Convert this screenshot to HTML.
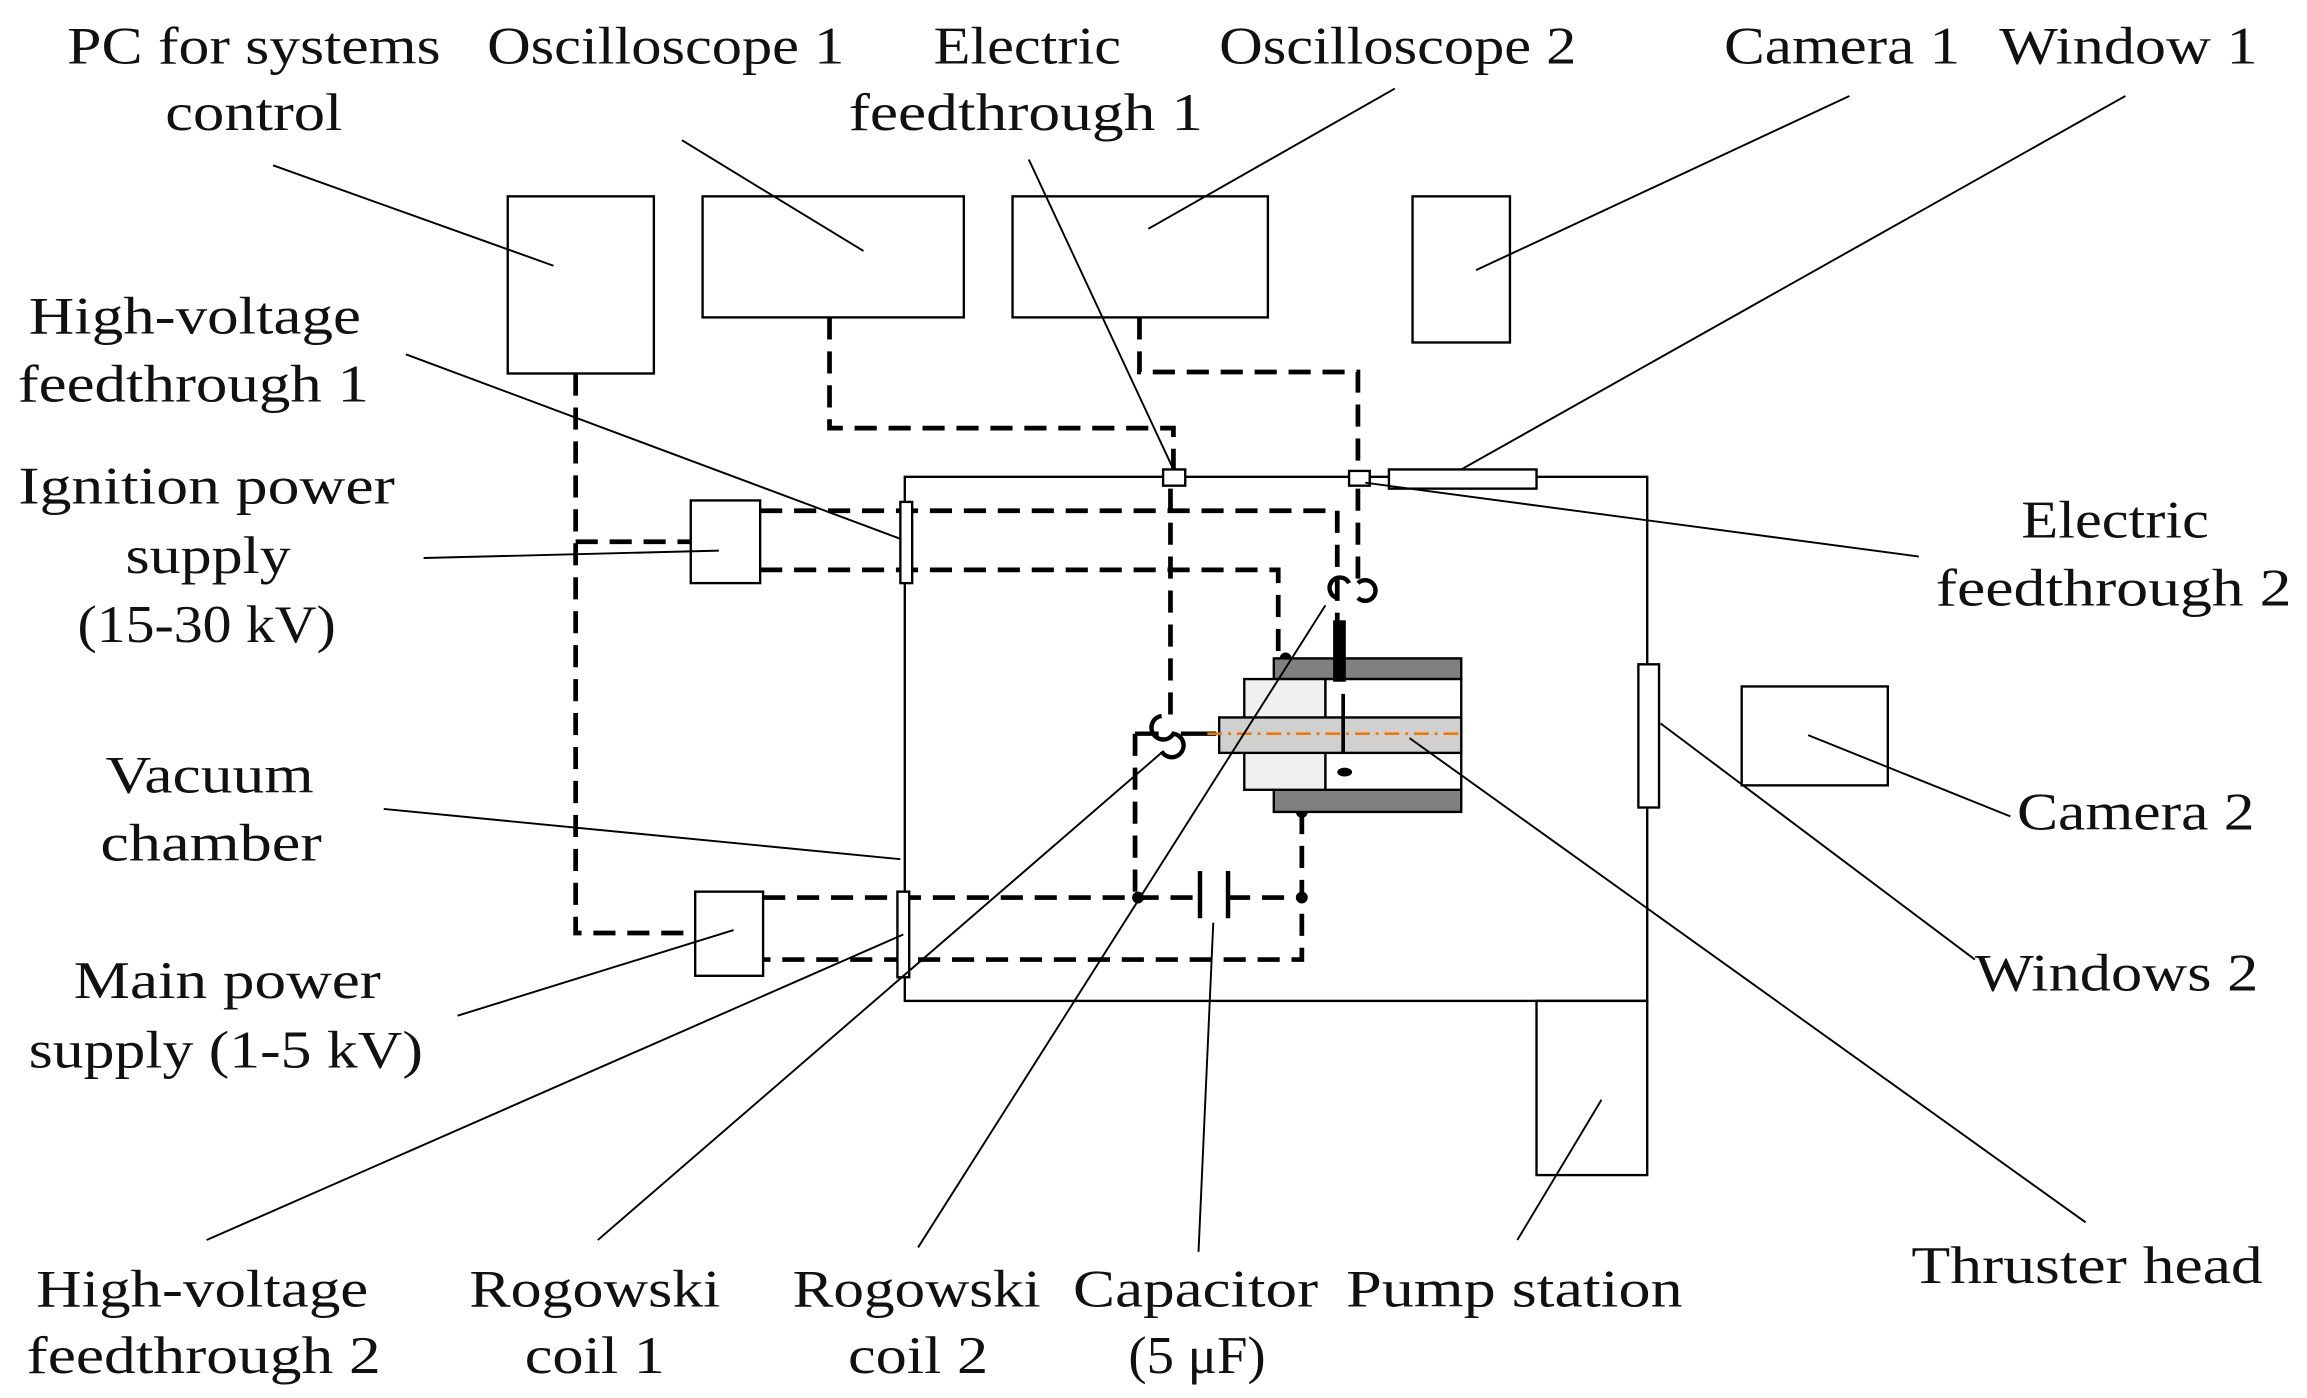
<!DOCTYPE html>
<html><head><meta charset="utf-8"><style>
html,body{margin:0;padding:0;background:#fff;}
svg{display:block;}
text{font-family:"Liberation Serif",serif;font-size:36px;fill:#111;text-anchor:middle;}
</style></head><body>
<svg width="2307" height="1398" viewBox="0 0 1563 947" preserveAspectRatio="none" xmlns="http://www.w3.org/2000/svg">
<g fill="none" stroke="#000" stroke-width="1.6">
<rect x="344" y="133" width="99" height="120"/>
<rect x="476" y="133" width="177" height="82"/>
<rect x="686" y="133" width="173" height="82"/>
<rect x="957" y="133" width="66" height="99"/>
<rect x="1180" y="465" width="99" height="67"/>
<rect x="613" y="323" width="503" height="355"/>
<rect x="1041" y="678" width="75" height="118"/>
<rect x="1110" y="450" width="14" height="97" fill="#fff"/>
<rect x="941" y="318" width="100" height="13" fill="#fff"/>
<rect x="468" y="339" width="47" height="56" fill="#fff"/>
<rect x="471" y="604" width="46" height="57" fill="#fff"/>
</g>
<g fill="none" stroke="#000" stroke-width="3.2" stroke-dasharray="15,8">
<path d="M390 253 V632 H471"/>
<path d="M390 367 H468"/>
<path d="M562 215 V290 H795 V318"/>
<path d="M772 215 V252 H920 V318"/>
<path d="M515 346 H906 V461"/>
<path d="M515 386 H866 V446"/>
<path d="M920 331 V400"/>
<path d="M793 331 V485"/>
<path d="M769 497 V608"/>
<path d="M517 608 H813"/>
<path d="M832 608 H882"/>
<path d="M882 550 V650 H517"/>
</g>
<g fill="none" stroke="#000" stroke-width="3">
<path d="M769 497 H785 M800 497 H824"/>
<path d="M787 485 a8 8 0 1 0 8 12 a8 8 0 1 1 -8 12"/>
<path d="M914 395 a7 7 0 1 0 -8 10 M920 395 a7 7 0 1 1 0 10"/>
<line x1="813" y1="590" x2="813" y2="622"/>
<line x1="832" y1="590" x2="832" y2="622"/>
</g>
<circle cx="871" cy="446" r="4"/><circle cx="882" cy="550" r="4"/>
<circle cx="771" cy="608" r="4"/><circle cx="882" cy="608" r="4"/>
<g stroke="#000" stroke-width="1.6">
<rect x="863" y="446" width="127" height="14" fill="#808080"/>
<rect x="863" y="535" width="127" height="15" fill="#808080"/>
<rect x="843" y="460" width="55" height="75" fill="#f0f0f0"/>
<rect x="898" y="460" width="92" height="75" fill="#fff"/>
<rect x="826" y="486" width="164" height="24" fill="#d0d0d0"/>
<rect x="904" y="421" width="7" height="40" fill="#000"/>
</g>
<ellipse cx="911" cy="523" rx="5" ry="3"/>
<line x1="910" y1="470" x2="910" y2="510" stroke="#000" stroke-width="2.5"/>
<line x1="818" y1="497" x2="991" y2="497" stroke="#f07800" stroke-width="1.8" stroke-dasharray="10,4,2,4"/>
<g stroke="#000" stroke-width="1.6" fill="#fff">
<rect x="788" y="318" width="15" height="11"/>
<rect x="914" y="319" width="14" height="10"/>
<rect x="610" y="340" width="8" height="55"/>
<rect x="608" y="604" width="8" height="58"/>
</g>
<g stroke="#000" stroke-width="1.3">
<line x1="185" y1="112" x2="375" y2="180"/>
<line x1="462" y1="95" x2="585" y2="170"/>
<line x1="697" y1="108" x2="795" y2="318"/>
<line x1="945" y1="60" x2="778" y2="155"/>
<line x1="1253" y1="65" x2="1000" y2="183"/>
<line x1="1440" y1="65" x2="990" y2="318"/>
<line x1="275" y1="240" x2="610" y2="365"/>
<line x1="287" y1="378" x2="487" y2="373"/>
<line x1="1300" y1="377" x2="925" y2="327"/>
<line x1="260" y1="548" x2="610" y2="582"/>
<line x1="310" y1="688" x2="497" y2="630"/>
<line x1="140" y1="840" x2="612" y2="633"/>
<line x1="405" y1="840" x2="788" y2="509"/>
<line x1="622" y1="845" x2="898" y2="410"/>
<line x1="812" y1="848" x2="822" y2="625"/>
<line x1="1028" y1="840" x2="1085" y2="745"/>
<line x1="1413" y1="828" x2="955" y2="500"/>
<line x1="1338" y1="650" x2="1125" y2="490"/>
<line x1="1362" y1="553" x2="1225" y2="498"/>
</g>
<g lengthAdjust="spacingAndGlyphs">
<text x="172" y="43" textLength="253" lengthAdjust="spacingAndGlyphs">PC for systems</text>
<text x="172" y="88" textLength="120" lengthAdjust="spacingAndGlyphs">control</text>
<text x="451" y="43" textLength="242" lengthAdjust="spacingAndGlyphs">Oscilloscope 1</text>
<text x="696" y="43" textLength="127" lengthAdjust="spacingAndGlyphs">Electric</text>
<text x="695" y="88" textLength="240" lengthAdjust="spacingAndGlyphs">feedthrough 1</text>
<text x="947" y="43" textLength="242" lengthAdjust="spacingAndGlyphs">Oscilloscope 2</text>
<text x="1248" y="43" textLength="160" lengthAdjust="spacingAndGlyphs">Camera 1</text>
<text x="1442" y="43" textLength="175" lengthAdjust="spacingAndGlyphs">Window 1</text>
<text x="132" y="226" textLength="225" lengthAdjust="spacingAndGlyphs">High-voltage</text>
<text x="131" y="272" textLength="238" lengthAdjust="spacingAndGlyphs">feedthrough 1</text>
<text x="140" y="341" textLength="255" lengthAdjust="spacingAndGlyphs">Ignition power</text>
<text x="141" y="388" textLength="112" lengthAdjust="spacingAndGlyphs">supply</text>
<text x="140" y="435" textLength="175" lengthAdjust="spacingAndGlyphs">(15-30 kV)</text>
<text x="142" y="537" textLength="141" lengthAdjust="spacingAndGlyphs">Vacuum</text>
<text x="143" y="583" textLength="150" lengthAdjust="spacingAndGlyphs">chamber</text>
<text x="154" y="676" textLength="208" lengthAdjust="spacingAndGlyphs">Main power</text>
<text x="153" y="723" textLength="267" lengthAdjust="spacingAndGlyphs">supply (1-5 kV)</text>
<text x="1433" y="364" textLength="127" lengthAdjust="spacingAndGlyphs">Electric</text>
<text x="1432" y="410" textLength="241" lengthAdjust="spacingAndGlyphs">feedthrough 2</text>
<text x="1447" y="562" textLength="161" lengthAdjust="spacingAndGlyphs">Camera 2</text>
<text x="1434" y="671" textLength="192" lengthAdjust="spacingAndGlyphs">Windows 2</text>
<text x="1414" y="869" textLength="238" lengthAdjust="spacingAndGlyphs">Thruster head</text>
<text x="137" y="885" textLength="225" lengthAdjust="spacingAndGlyphs">High-voltage</text>
<text x="138" y="930" textLength="240" lengthAdjust="spacingAndGlyphs">feedthrough 2</text>
<text x="403" y="885" textLength="170" lengthAdjust="spacingAndGlyphs">Rogowski</text>
<text x="403" y="930" textLength="95" lengthAdjust="spacingAndGlyphs">coil 1</text>
<text x="621" y="885" textLength="168" lengthAdjust="spacingAndGlyphs">Rogowski</text>
<text x="622" y="930" textLength="95" lengthAdjust="spacingAndGlyphs">coil 2</text>
<text x="810" y="885" textLength="166" lengthAdjust="spacingAndGlyphs">Capacitor</text>
<text x="811" y="930" textLength="93" lengthAdjust="spacingAndGlyphs">(5 μF)</text>
<text x="1026" y="885" textLength="228" lengthAdjust="spacingAndGlyphs">Pump station</text>
</g>
</svg>
</body></html>
